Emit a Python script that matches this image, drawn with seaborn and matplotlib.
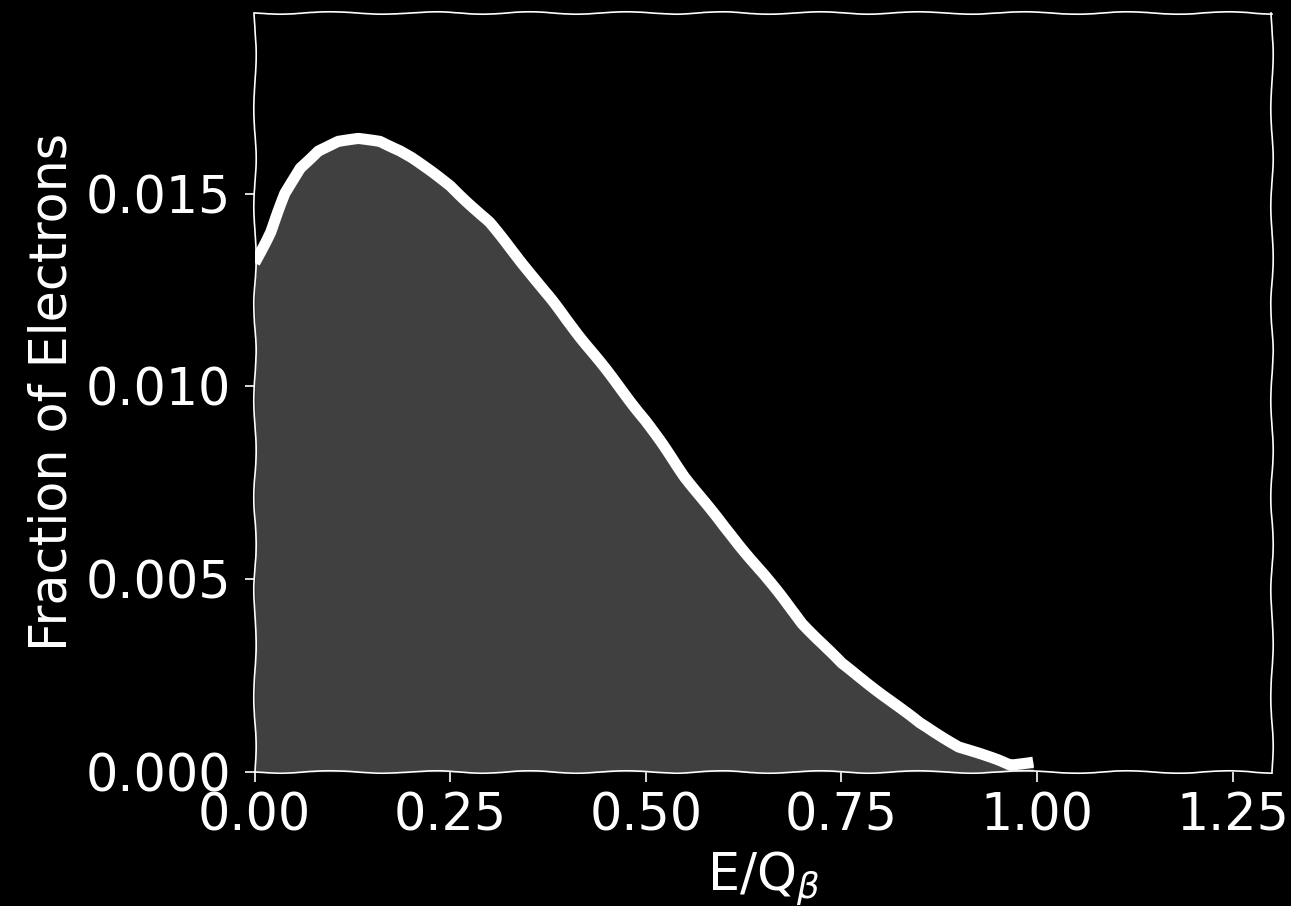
import matplotlib
matplotlib.use("Agg")
import matplotlib.pyplot as plt
import seaborn as sns
import pandas as pd

# Data
energy = [0.0, 0.02, 0.039, 0.058, 0.081, 0.107, 0.1325, 0.16, 0.186, 0.20,
          0.25, 0.30, 0.35, 0.40, 0.45, 0.50, 0.55, 0.60, 0.65, 0.70,
          0.75, 0.80, 0.85, 0.90, 0.95, 0.966, 0.995]
fraction = [0.0132, 0.0140, 0.0150, 0.01567, 0.01611, 0.01635, 0.01642, 0.01636,
            0.01612, 0.01595, 0.0152, 0.01425, 0.0130, 0.0117, 0.0104, 0.0091,
            0.00765, 0.00635, 0.00514, 0.00385, 0.00281, 0.00204, 0.00126,
            0.00065, 0.0003, 0.00017, 0.00026]
x_ticks = [0.00, 0.25, 0.50, 0.75, 1.00, 1.25]
y_ticks = [0.000, 0.005, 0.010, 0.015]
x_label = r"E/Q$_\beta$"
y_label = "Fraction of Electrons"

df = pd.DataFrame({"E": energy, "frac": fraction})

sns.set_theme(style="dark", rc={
    "figure.facecolor": "black",
    "axes.facecolor": "black",
    "axes.edgecolor": "white",
    "axes.labelcolor": "white",
    "text.color": "white",
    "xtick.color": "white",
    "ytick.color": "white",
    "axes.grid": False,
})
plt.rcParams["font.family"] = ["DejaVu Sans"]

fig = plt.figure(figsize=(12.91, 9.06), dpi=100)
ax = fig.add_axes([0.1973, 0.1482, 0.7878, 0.838])

ax.fill_between(df["E"], df["frac"], 0, color="#404040", linewidth=0, zorder=1)
sns.lineplot(data=df, x="E", y="frac", ax=ax, color="white", linewidth=8,
             sort=False, zorder=3)
for ln in ax.lines:
    ln.set_sketch_params(0.5, 100, 2)
    ln.set_solid_capstyle("butt")
    ln.set_solid_joinstyle("round")

ax.set_xlim(0, 1.3)
ax.set_ylim(0, 0.0197)
ax.set_xticks(x_ticks)
ax.set_yticks(y_ticks)
ax.set_xticklabels([f"{t:.2f}" for t in x_ticks])
ax.set_yticklabels([f"{t:.3f}" for t in y_ticks])

for s in ax.spines.values():
    s.set_visible(True)
    s.set_color("white")
    s.set_linewidth(1.2)
    s.set_sketch_params(1.2, 110, 2)

ax.tick_params(axis="both", which="major", labelsize=36.5, colors="white",
               length=7, width=1.2, direction="out", bottom=True, left=True)
ax.tick_params(axis="x", pad=7)
ax.tick_params(axis="y", pad=10)

ax.set_xlabel(x_label, fontsize=36.5, labelpad=6)
ax.set_ylabel(y_label, fontsize=36.5, labelpad=6)

fig.savefig("out.png", dpi=100, facecolor="black")
